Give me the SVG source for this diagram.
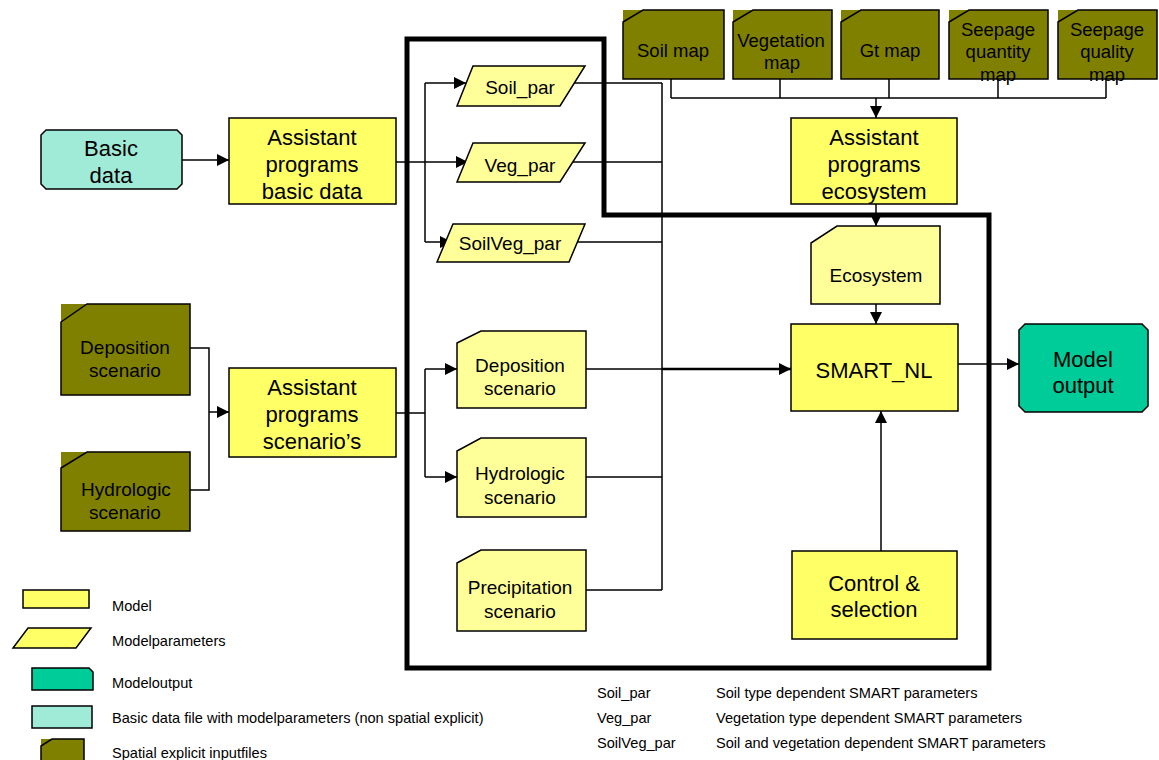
<svg xmlns="http://www.w3.org/2000/svg" width="1159" height="760" viewBox="0 0 1159 760">
<style>
text{font-family:"Liberation Sans",Arial,sans-serif;fill:#000;text-anchor:middle}
.m{font-size:22px}
.f{font-size:19px}
.g{font-size:18.5px}
.l{font-size:14.6px;text-anchor:start}
.model{fill:#ffff66;stroke:#000;stroke-width:1.5}
.file{fill:#ffff99;stroke:#000;stroke-width:1.5}
.olive{fill:#808000}
.oline{fill:#808000;stroke:#000;stroke-width:1.5}
.out{fill:#00cc99;stroke:#000;stroke-width:1.5}
.basic{fill:#a0ead8;stroke:#000;stroke-width:1.5}
.c{fill:none;stroke:#000;stroke-width:1.5}
.ca{fill:none;stroke:#000;stroke-width:1.5;marker-end:url(#arr)}
</style>
<defs>
<marker id="arr" markerWidth="12" markerHeight="12" refX="12" refY="6" orient="auto" markerUnits="userSpaceOnUse"><path d="M0,0 L12,6 L0,12 Z" fill="#000"/></marker>
</defs>
<rect width="1159" height="760" fill="#fff"/>

<g id="boundary">
<path d="M407,39 H604 V215 H989 V668 H407 Z" fill="none" stroke="#000" stroke-width="5"/>
</g>

<g id="connectors">
<path class="ca" d="M182,160 H229"/>
<path class="ca" d="M396,162 H468"/>
<path class="c" d="M425,83 V242"/>
<path class="ca" d="M425,83 H466"/>
<path class="ca" d="M425,242 H452"/>
<path class="c" d="M565,83 H662 M570,162 H662 M570,242 H662 M662,83 V590"/>
<path class="c" d="M586,369 H662 M586,477 H662 M586,590 H662"/>
<path class="ca" d="M662,369 H791" style="stroke-width:2.5"/>
<path class="c" d="M190,348 H209 V490 H190"/>
<path class="ca" d="M209,412 H229"/>
<path class="c" d="M396,413 H425 M425,369 V477"/>
<path class="ca" d="M425,369 H457"/>
<path class="ca" d="M425,477 H457"/>
<path class="c" d="M671,79 V98 M780,79 V98 M889,79 V98 M998,79 V98 M1106,79 V98 M671,98 H1106"/>
<path class="ca" d="M876,98 V118"/>
<path class="ca" d="M876,204 V226"/>
<path class="ca" d="M876,304 V324"/>
<path class="ca" d="M958,364 H1019"/>
<path class="ca" d="M881,551 V411"/>
</g>

<g id="soil-map">
<rect class="olive" x="623" y="10" width="101" height="69"/>
<path class="oline" d="M623,22 L643,10 H724 V79 H623 Z"/>
<text class="g" x="673" y="57">Soil map</text>
</g>
<g id="vegetation-map">
<rect class="olive" x="733" y="10" width="99" height="69"/>
<path class="oline" d="M733,22 L753,10 H832 V79 H733 Z"/>
<text class="g" x="781" y="47">Vegetation</text>
<text class="g" x="782" y="69">map</text>
</g>
<g id="gt-map">
<rect class="olive" x="841" y="10" width="98" height="69"/>
<path class="oline" d="M841,22 L861,10 H939 V79 H841 Z"/>
<text class="g" x="890" y="57">Gt map</text>
</g>
<g id="seepage-quantity-map">
<rect class="olive" x="949" y="10" width="99" height="69"/>
<path class="oline" d="M949,22 L969,10 H1048 V79 H949 Z"/>
<text class="g" x="998" y="36">Seepage</text>
<text class="g" x="998" y="58">quantity</text>
<text class="g" x="998" y="81">map</text>
</g>
<g id="seepage-quality-map">
<rect class="olive" x="1058" y="10" width="99" height="69"/>
<path class="oline" d="M1058,22 L1078,10 H1157 V79 H1058 Z"/>
<text class="g" x="1107" y="36">Seepage</text>
<text class="g" x="1107" y="58">quality</text>
<text class="g" x="1107" y="81">map</text>
</g>

<g id="basic-data">
<path class="basic" d="M46,130 H177 L182,135 V184 L177,189 H46 L41,184 V135 Z"/>
<text class="m" x="111" y="156">Basic</text>
<text class="m" x="111" y="183">data</text>
</g>
<g id="assistant-basic">
<rect class="model" x="229" y="118" width="167" height="86"/>
<text class="m" x="312" y="145">Assistant</text>
<text class="m" x="312" y="172">programs</text>
<text class="m" x="312" y="199">basic data</text>
</g>
<g id="deposition-scenario-input">
<rect class="olive" x="61" y="304" width="129" height="91"/>
<path class="oline" d="M61,322 L87,304 H190 V395 H61 Z"/>
<text class="f" x="125" y="354">Deposition</text>
<text class="f" x="125" y="377">scenario</text>
</g>
<g id="hydrologic-scenario-input">
<rect class="olive" x="61" y="452" width="129" height="79"/>
<path class="oline" d="M61,468 L87,452 H190 V531 H61 Z"/>
<text class="f" x="126" y="496">Hydrologic</text>
<text class="f" x="125" y="519">scenario</text>
</g>
<g id="assistant-scenarios">
<rect class="model" x="229" y="368" width="167" height="89"/>
<text class="m" x="312" y="395">Assistant</text>
<text class="m" x="312" y="422">programs</text>
<text class="m" x="312" y="449">scenario’s</text>
</g>

<g id="soil-par">
<path class="file" d="M473,66 H585 L560,106 H457 Z"/>
<text class="f" x="520" y="94">Soil_par</text>
</g>
<g id="veg-par">
<path class="file" d="M473,143 H585 L560,182 H457 Z"/>
<text class="f" x="520" y="172">Veg_par</text>
</g>
<g id="soilveg-par">
<path class="file" d="M453,224 H585 L569,262 H437 Z"/>
<text class="f" x="510" y="250">SoilVeg_par</text>
</g>

<g id="deposition-scenario">
<path class="file" d="M457,343 L481,331 H586 V408 H457 Z"/>
<text class="f" x="520" y="372">Deposition</text>
<text class="f" x="520" y="395">scenario</text>
</g>
<g id="hydrologic-scenario">
<path class="file" d="M457,451 L481,438 H586 V517 H457 Z"/>
<text class="f" x="520" y="480">Hydrologic</text>
<text class="f" x="520" y="504">scenario</text>
</g>
<g id="precipitation-scenario">
<path class="file" d="M457,563 L481,550 H586 V631 H457 Z"/>
<text class="f" x="520" y="594">Precipitation</text>
<text class="f" x="520" y="618">scenario</text>
</g>

<g id="assistant-ecosystem">
<rect class="model" x="791" y="118" width="166" height="86"/>
<text class="m" x="874" y="145">Assistant</text>
<text class="m" x="874" y="172">programs</text>
<text class="m" x="874" y="199">ecosystem</text>
</g>
<g id="ecosystem">
<path class="file" d="M811,243 L837,226 H940 V304 H811 Z"/>
<text class="f" x="876" y="282">Ecosystem</text>
</g>
<g id="smart-nl">
<rect class="model" x="791" y="324" width="167" height="87"/>
<text class="m" x="874" y="378">SMART_NL</text>
</g>
<g id="control-selection">
<rect class="model" x="792" y="551" width="165" height="88"/>
<text class="m" x="874" y="591">Control &amp;</text>
<text class="m" x="874" y="617">selection</text>
</g>
<g id="model-output">
<path class="out" d="M1025,324 H1142 L1148,330 V406 L1142,412 H1025 L1019,406 V330 Z"/>
<text class="m" x="1083" y="367">Model</text>
<text class="m" x="1083" y="393">output</text>
</g>

<g id="legend">
<rect class="model" x="23" y="590" width="66" height="18"/>
<text class="l" x="112" y="611">Model</text>
<path class="model" d="M28,628 H91 L76,648 H13 Z"/>
<text class="l" x="112" y="646">Modelparameters</text>
<path class="out" d="M32,668 H89 L93,672 V690 H32 Z"/>
<text class="l" x="112" y="688">Modeloutput</text>
<rect class="basic" x="32" y="706" width="60" height="22"/>
<text class="l" x="112" y="723">Basic data file with modelparameters  (non spatial explicit)</text>
<rect class="olive" x="41" y="739" width="43" height="24"/>
<path class="oline" d="M41,746 L52,739 H84 V763 H41 Z"/>
<text class="l" x="112" y="758">Spatial explicit inputfiles</text>
</g>

<g id="definitions">
<text class="l" x="597" y="698">Soil_par</text>
<text class="l" x="716" y="698">Soil type dependent SMART parameters</text>
<text class="l" x="597" y="723">Veg_par</text>
<text class="l" x="716" y="723">Vegetation type dependent SMART parameters</text>
<text class="l" x="597" y="748">SoilVeg_par</text>
<text class="l" x="716" y="748">Soil and vegetation dependent SMART parameters</text>
</g>
</svg>
